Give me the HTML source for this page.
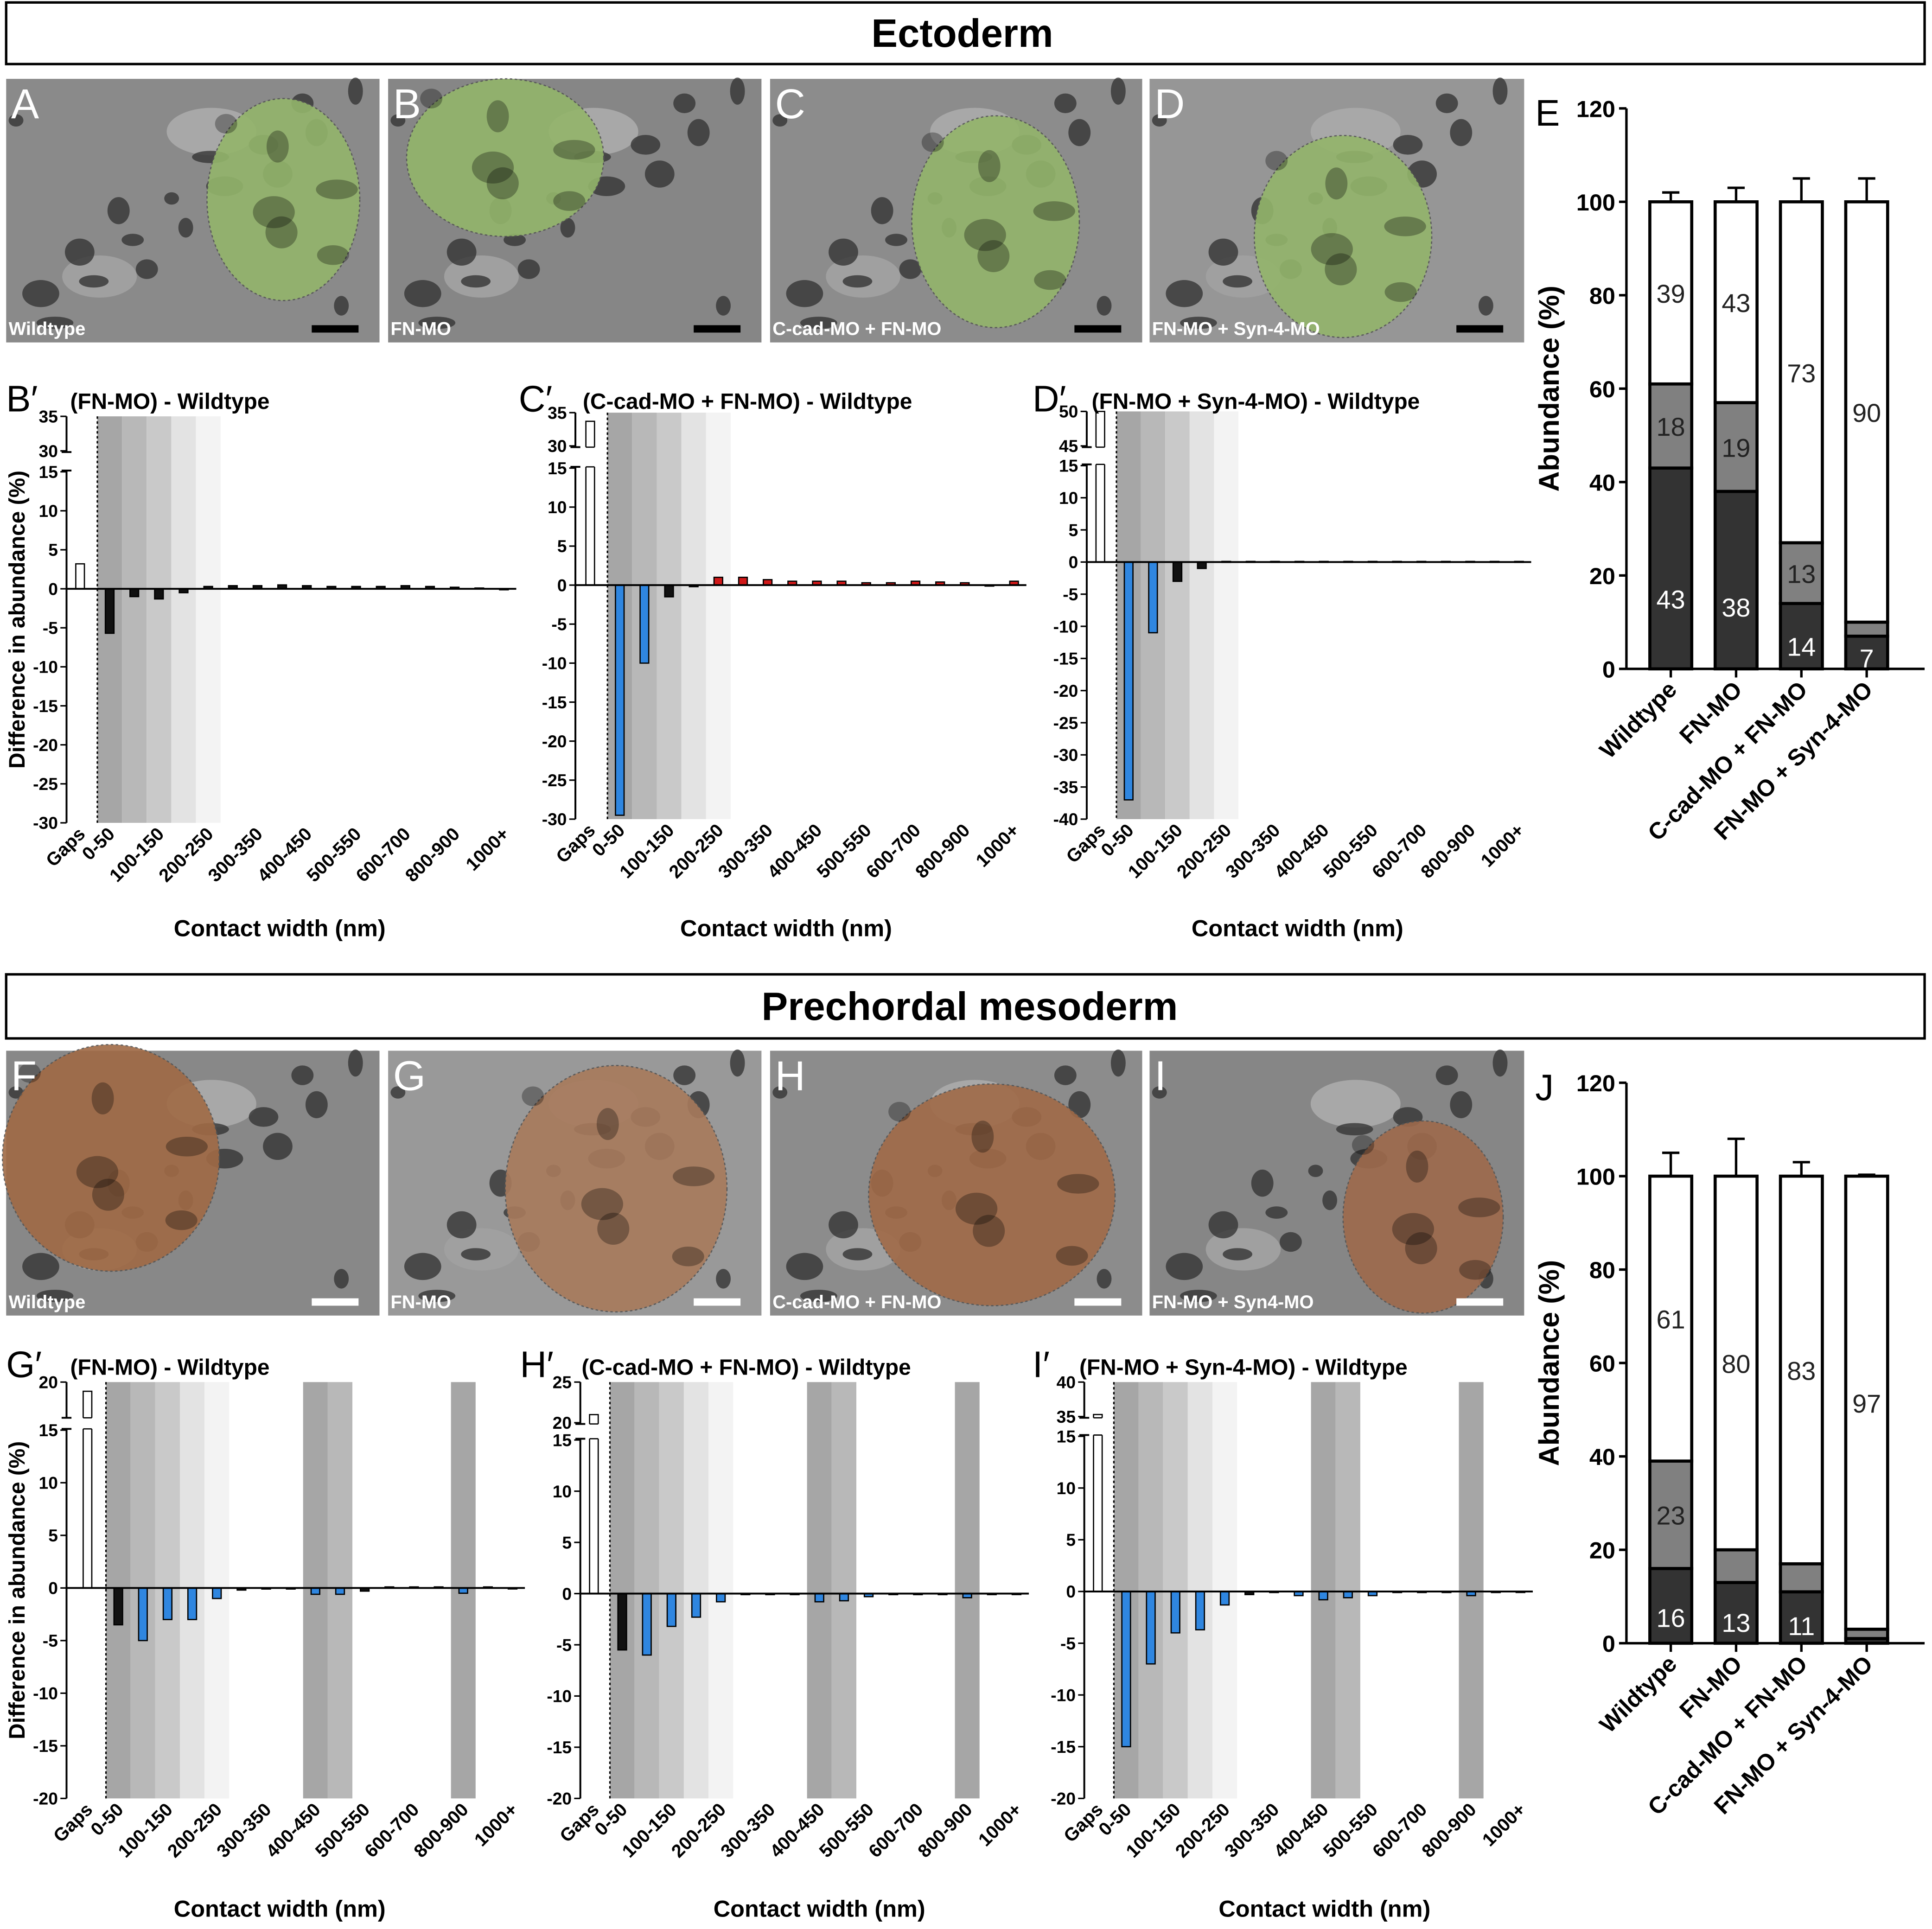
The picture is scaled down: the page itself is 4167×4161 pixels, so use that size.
<!DOCTYPE html>
<html><head><meta charset="utf-8"><style>
html,body{margin:0;padding:0;background:#fff;}
svg{display:block;font-family:"Liberation Sans",Arial,sans-serif;}
</style></head><body>
<svg id="fig" width="4167" height="4161" viewBox="0 0 1568 1566" preserveAspectRatio="none" xmlns="http://www.w3.org/2000/svg">
<rect x="0" y="0" width="1568" height="1566" fill="#fff"/>
<g>
<rect x="5" y="2" width="1557" height="50" fill="#fff" stroke="#000" stroke-width="2"/>
<text x="781" y="38" font-size="32" font-weight="bold" text-anchor="middle">Ectoderm</text>
</g>
<g>
<rect x="5" y="791" width="1557" height="52" fill="#fff" stroke="#000" stroke-width="2"/>
<text x="787" y="828" font-size="32" font-weight="bold" text-anchor="middle">Prechordal mesoderm</text>
</g>
<g id="images"></g>
<g id="charts"></g>
</svg>
<script>
// ---------- data ----------
const diffCats = ["Gaps","0-50","50-100","100-150","150-200","200-250","250-300","300-350","350-400","400-450","450-500","500-550","550-600","600-700","700-800","800-900","900-1000","1000+"];
const bVals = [3.2,-5.7,-1.0,-1.3,-0.5,0.3,0.4,0.4,0.5,0.4,0.3,0.3,0.3,0.4,0.3,0.2,0.1,-0.1];
const bSig  = ["g","n","n","n","n","n","n","n","n","n","n","n","n","n","n","n","n","n"];
const cVals = [33.7,-29.5,-10,-1.5,-0.2,1.0,1.0,0.7,0.5,0.5,0.5,0.3,0.3,0.5,0.4,0.3,-0.1,0.5];
const cSig  = ["g","d","d","n","n","u","u","u","u","u","u","u","u","u","u","u","n","u"];
const dVals = [50,-37,-11,-3,-1,0.1,0.1,0.1,0.1,0.1,0.1,0.1,0.1,0.1,0.1,0.1,0.1,0.1];
const dSig  = ["g","d","d","n","n","n","n","n","n","n","n","n","n","n","n","n","n","n"];
const gVals = [19.2,-3.5,-5,-3,-3,-1,-0.2,-0.1,-0.1,-0.6,-0.6,-0.3,0.1,0.1,0.1,-0.5,0.1,0];
const gSig  = ["g","n","d","d","d","d","n","n","n","d","d","n","n","n","n","d","n","n"];
const hVals = [21,-5.5,-6,-3.2,-2.3,-0.8,-0.1,-0.1,-0.1,-0.8,-0.7,-0.3,-0.1,-0.1,-0.1,-0.4,-0.1,0];
const hSig  = ["g","n","d","d","d","d","n","n","n","d","d","d","n","n","n","d","n","n"];
const iVals = [35.3,-15,-7,-4,-3.7,-1.3,-0.3,-0.1,-0.4,-0.8,-0.6,-0.4,-0.1,-0.1,-0.1,-0.4,-0.1,0];
const iSig  = ["g","d","d","d","d","d","n","n","d","d","d","d","n","n","n","d","n","n"];
const xTickLabels = ["Gaps","0-50","100-150","200-250","300-350","400-450","500-550","600-700","800-900","1000+"];

const stackCats = ["Wildtype","FN-MO","C-cad-MO + FN-MO","FN-MO + Syn-4-MO"];
const eDark = [43,38,14,7];
const eMid  = [18,19,13,3];
const eTop  = [39,43,73,90];
const eErrDark = [47,42,20,9];
const eErrMid  = [65,59,29,12];
const eErrTop  = [102,103,105,105];
const eLabels = [["43","18","39"],["38","19","43"],["14","13","73"],["7","","90"]];
const jDark = [16,13,11,1];
const jMid  = [23,7,6,2];
const jTop  = [61,80,83,97];
const jErrDark = [20,16,15,1.5];
const jErrMid  = [43,26,23,3.3];
const jErrTop  = [105,108,103,100.3];
const jLabels = [["16","23","61"],["13","","80"],["11","","83"],["","","97"]];
const stackTicks = [0,20,40,60,80,100,120];

// ---------- helpers ----------
const NS="http://www.w3.org/2000/svg";
function mk(tag, attrs, parent){const e=document.createElementNS(NS,tag);for(const k in attrs)e.setAttribute(k,attrs[k]);parent.appendChild(e);return e;}
const charts=document.getElementById('charts');
const images=document.getElementById('images');

// ---------- micrographs ----------
const imgs=[
 {x:5,y:64,w:303,h:214,L:"A",t:"Wildtype",bg:"#8a8a8a",blob:[230,162,62,82],c:"#93b56b",bar:"#000"},
 {x:315,y:64,w:303,h:214,L:"B",t:"FN-MO",bg:"#868686",blob:[410,128,80,64],c:"#93b56b",bar:"#000"},
 {x:625,y:64,w:302,h:214,L:"C",t:"C-cad-MO + FN-MO",bg:"#8c8c8c",blob:[808,180,68,86],c:"#93b56b",bar:"#000"},
 {x:933,y:64,w:304,h:214,L:"D",t:"FN-MO + Syn-4-MO",bg:"#969696",blob:[1090,192,72,82],c:"#93b56b",bar:"#000"},
 {x:5,y:853,w:303,h:215,L:"F",t:"Wildtype",bg:"#888888",blob:[90,940,88,92],c:"#a06a45",bar:"#fff"},
 {x:315,y:853,w:303,h:215,L:"G",t:"FN-MO",bg:"#999999",blob:[500,965,90,100],c:"#a87a5c",bar:"#fff"},
 {x:625,y:853,w:302,h:215,L:"H",t:"C-cad-MO + FN-MO",bg:"#8c8c8c",blob:[805,970,100,90],c:"#a06a48",bar:"#fff"},
 {x:933,y:853,w:304,h:215,L:"I",t:"FN-MO + Syn4-MO",bg:"#868686",blob:[1155,988,65,78],c:"#9e6a4c",bar:"#fff"}
];
const imgNames=["panel-a","panel-b","panel-c","panel-d","panel-f","panel-g","panel-h","panel-i"];
imgs.forEach((m,k)=>{
 const g=mk('g',{},images);
 
 
 mk('rect',{x:m.x,y:m.y,width:m.w,height:m.h,fill:m.bg},g);
 mk('ellipse',{cx:m.x+m.w*0.55,cy:m.y+m.h*0.2,rx:m.w*0.12,ry:m.h*0.09,fill:"#a8a8a8"},g);
 mk('ellipse',{cx:m.x+m.w*0.25,cy:m.y+m.h*0.75,rx:m.w*0.1,ry:m.h*0.08,fill:"#a0a0a0"},g);
 for(let j=0;j<18;j++){
   const fx=((j*37)%100)/100, fy=((j*61+13)%100)/100;
   mk('ellipse',{cx:m.x+8+fx*(m.w-16),cy:m.y+8+fy*(m.h-16),rx:6+(j%4)*3,ry:5+(j%3)*3,fill:"#353535",opacity:0.8},g);
 }
 mk('ellipse',{cx:m.blob[0],cy:m.blob[1],rx:m.blob[2],ry:m.blob[3],fill:m.c,opacity:0.9,stroke:"#555","stroke-dasharray":"2,2"},g);
 for(let j=0;j<6;j++){
   mk('ellipse',{cx:m.blob[0]+((j*29)%60-30)*m.blob[2]/40,cy:m.blob[1]+((j*43)%60-30)*m.blob[3]/40,rx:9+(j%3)*4,ry:8+(j%2)*5,fill:"#000",opacity:0.3},g);
 }
 const l=mk('text',{x:m.x+4,y:m.y+32,"font-size":34,fill:"#fff"},g);l.textContent=m.L;
 const t=mk('text',{x:m.x+2,y:m.y+m.h-6,"font-size":15,"font-weight":"bold",fill:"#fff"},g);t.textContent=m.t;
 mk('rect',{x:m.x+m.w-55,y:m.y+m.h-14,width:38,height:6,fill:m.bar},g);
});

// ---------- difference charts ----------
function diffChart(name,cfg,vals,sig){
 const g=mk('g',{},charts);
 
 
 const [hiM,pHi,lo,pLo]=cfg.main, [upLo,pUL,upHi,pUH]=cfg.upper;
 const y=v=> v<=hiM ? pHi+(hiM-v)*(pLo-pHi)/(hiM-lo) : pUL-(v-upLo)*(pUL-pUH)/(upHi-upLo);
 const x=i=> i===0?cfg.gapsX:cfg.x1+(i-1)*cfg.step;
 const shades=["#a6a6a6","#b8b8b8","#c9c9c9","#e3e3e3","#f3f3f3"];
 for(let i=1;i<=5;i++){
   const b=mk('rect',{x:x(i)-cfg.step/2,y:pUH,width:cfg.step,height:pLo-pUH,fill:shades[i-1]},g);
   
   
 }
 (cfg.extra||[]).forEach((pair)=>{
   const b=mk('rect',{x:x(pair[0])-cfg.step/2,y:pUH,width:cfg.step,height:pLo-pUH,fill:pair[1]},g);
   
   
 });
 const dx=x(1)-cfg.step/2;
 mk('line',{x1:dx,y1:pUH,x2:dx,y2:pLo,stroke:"#000","stroke-width":1.2,"stroke-dasharray":"2,2"},g);
 vals.forEach((v,i)=>{
   const col = sig[i]==="g"?"#fff":sig[i]==="d"?"#2f86e0":sig[i]==="u"?"#d01818":"#111";
   const y0=y(0), y1=y(v);
   const r=mk('rect',{x:x(i)-3.5,y:Math.min(y0,y1),width:7,height:Math.max(0.8,Math.abs(y1-y0)),fill:col,stroke:"#000","stroke-width":1},g);
   
   
   if(v>hiM){
     mk('rect',{x:x(i)-5,y:pUL+1,width:10,height:pHi-pUL-2,fill:"#fff"},g);
     mk('line',{x1:x(i)-3.5,y1:pUL+1,x2:x(i)+3.5,y2:pUL+1,stroke:"#000"},g);
     mk('line',{x1:x(i)-3.5,y1:pHi-1,x2:x(i)+3.5,y2:pHi-1,stroke:"#000"},g);
   }
 });
 const ax=cfg.axisX;
 mk('line',{x1:ax,y1:pUH,x2:ax,y2:pUL+1,stroke:"#000","stroke-width":1.5},g);
 mk('line',{x1:ax,y1:pHi-1,x2:ax,y2:pLo,stroke:"#000","stroke-width":1.5},g);
 mk('line',{x1:ax-4,y1:pUL+1,x2:ax+4,y2:pUL+1,stroke:"#000","stroke-width":1.5},g);
 mk('line',{x1:ax-4,y1:pHi-1,x2:ax+4,y2:pHi-1,stroke:"#000","stroke-width":1.5},g);
 mk('line',{x1:ax,y1:y(0),x2:x(17)+cfg.step/2,y2:y(0),stroke:"#000","stroke-width":1.5},g);
 const ticks=[];for(let v=lo;v<=hiM;v+=5)ticks.push(v);
 cfg.upTicks.forEach(v=>ticks.push(v));
 ticks.forEach(v=>{
   mk('line',{x1:ax-5,y1:y(v),x2:ax,y2:y(v),stroke:"#000","stroke-width":1.2},g);
   const t=mk('text',{x:ax-7,y:y(v)+5,"font-size":14,"font-weight":"bold","text-anchor":"end"},g);t.textContent=v;
 });
 xTickLabels.forEach(lbl=>{
   const i=diffCats.indexOf(lbl);
   const tx=x(i)+5, ty=pLo+10;
   const t=mk('text',{x:tx,y:ty,"font-size":15,"font-weight":"bold","text-anchor":"end",transform:`rotate(-45 ${tx} ${ty})`},g);
   t.textContent=lbl;
 });
 const xt=mk('text',{x:cfg.xTitle,y:cfg.xTitleY,"font-size":19,"font-weight":"bold","text-anchor":"middle"},g);xt.textContent="Contact width (nm)";
 
 const pl=mk('text',{x:cfg.titleX,y:cfg.titleY,"font-size":30},g);pl.textContent=cfg.letter+"\u2032";
 const tt=mk('text',{x:cfg.titleX+cfg.titleOff,y:cfg.titleY-2,"font-size":18,"font-weight":"bold"},g);tt.textContent=cfg.title;
 
 if(cfg.yTitle){
   const cy=(pUH+pLo)/2;
   const yt=mk('text',{x:20,y:cy,"font-size":18,"font-weight":"bold","text-anchor":"middle",transform:`rotate(-90 20 ${cy})`},g);
   yt.textContent="Difference in abundance (%)";
   
 }
}
diffChart('chart-b-prime',{axisX:54,gapsX:65,x1:89,step:20,main:[15,383,-30,668],upper:[30,366,35,338],upTicks:[30,35],xTitle:227,xTitleY:760,letter:"B",title:"(FN-MO) - Wildtype",titleX:5,titleY:334,titleOff:52,yTitle:true},bVals,bSig);
diffChart('chart-c-prime',{axisX:467,gapsX:479,x1:503,step:20,main:[15,380,-30,665],upper:[30,362,35,335],upTicks:[30,35],xTitle:638,xTitleY:760,letter:"C",title:"(C-cad-MO + FN-MO) - Wildtype",titleX:421,titleY:334,titleOff:52},cVals,cSig);
diffChart('chart-d-prime',{axisX:882,gapsX:893,x1:916,step:19.8,main:[15,378,-40,665],upper:[45,362,50,334],upTicks:[45,50],xTitle:1053,xTitleY:760,letter:"D",title:"(FN-MO + Syn-4-MO) -  Wildtype",titleX:838,titleY:334,titleOff:48},dVals,dSig);
diffChart('chart-g-prime',{axisX:54,gapsX:71,x1:96,step:20,main:[15,1161,-20,1460],upper:[17,1150,20,1122],upTicks:[20],extra:[[9,"#a6a6a6"],[10,"#b8b8b8"],[15,"#a6a6a6"]],xTitle:227,xTitleY:1556,letter:"G",title:"(FN-MO) - Wildtype",titleX:5,titleY:1118,titleOff:52,yTitle:true},gVals,gSig);
diffChart('chart-h-prime',{axisX:471,gapsX:482,x1:505,step:20,main:[15,1169,-20,1460],upper:[20,1155,25,1122],upTicks:[20,25],extra:[[9,"#a6a6a6"],[10,"#b8b8b8"],[15,"#a6a6a6"]],xTitle:665,xTitleY:1556,letter:"H",title:"(C-cad-MO + FN-MO) - Wildtype",titleX:422,titleY:1118,titleOff:50},hVals,hSig);
diffChart('chart-i-prime',{axisX:880,gapsX:891,x1:914,step:20,main:[15,1166,-20,1460],upper:[35,1150,40,1122],upTicks:[35,40],extra:[[9,"#a6a6a6"],[10,"#b8b8b8"],[15,"#a6a6a6"]],xTitle:1075,xTitleY:1556,letter:"I",title:"(FN-MO + Syn-4-MO) - Wildtype",titleX:838,titleY:1118,titleOff:38},iVals,iSig);

// ---------- stacked charts ----------
function stackChart(name,cfg,dark,mid,top,eD,eM,eT,labels){
 const g=mk('g',{},charts);
 
 
 const y=v=>cfg.y0-v*(cfg.y0-cfg.y120)/120;
 const x=i=>cfg.xc0+i*cfg.dx;
 const bw=34;
 dark.forEach((d,i)=>{
   const segs=[[0,d,"#333333"],[d,d+mid[i],"#808080"],[d+mid[i],d+mid[i]+top[i],"#ffffff"]];
   const errs=[eD[i],eM[i],eT[i]];
   const segNames=['dark','mid','top'];
   segs.forEach((s,k)=>{
     const r=mk('rect',{x:x(i)-bw/2,y:y(s[1]),width:bw,height:y(s[0])-y(s[1]),fill:s[2],stroke:"#000","stroke-width":2.5},g);
     
     
     mk('line',{x1:x(i),y1:y(s[1]),x2:x(i),y2:y(errs[k]),stroke:"#000","stroke-width":2},g);
     mk('line',{x1:x(i)-7,y1:y(errs[k]),x2:x(i)+7,y2:y(errs[k]),stroke:"#000","stroke-width":2},g);
     if(labels[i][k]){
       const ly=k===0?y(s[0])-(y(s[0])-y(s[1]))*0.35:y((s[0]+s[1])/2);
       const t=mk('text',{x:x(i),y:ly+8,"font-size":21,"text-anchor":"middle",fill:k===0?"#fff":"#222"},g);
       t.textContent=labels[i][k];
     }
   });
 });
 const ax=cfg.axisX;
 mk('line',{x1:ax,y1:y(120),x2:ax,y2:y(0),stroke:"#000","stroke-width":2},g);
 mk('line',{x1:ax,y1:y(0),x2:cfg.xEnd,y2:y(0),stroke:"#000","stroke-width":2},g);
 stackTicks.forEach(v=>{
   mk('line',{x1:ax-6,y1:y(v),x2:ax,y2:y(v),stroke:"#000","stroke-width":2},g);
   const t=mk('text',{x:ax-9,y:y(v)+7,"font-size":19,"font-weight":"bold","text-anchor":"end"},g);t.textContent=v;
 });
 stackCats.forEach((c,i)=>{
   mk('line',{x1:x(i),y1:y(0),x2:x(i),y2:y(0)+7,stroke:"#000","stroke-width":2},g);
   const tx=x(i)+6, ty=y(0)+18;
   const t=mk('text',{x:tx,y:ty,"font-size":19,"font-weight":"bold","text-anchor":"end",transform:`rotate(-45 ${tx} ${ty})`},g);
   t.textContent=c;
 });
 const cy=(y(0)+y(120))/2;
 const yt=mk('text',{x:1265,y:cy,"font-size":23,"font-weight":"bold","text-anchor":"middle",transform:`rotate(-90 1265 ${cy})`},g);
 yt.textContent="Abundance (%)";
 
 const L=mk('text',{x:1246,y:cfg.y120+14,"font-size":30},g);L.textContent=cfg.letter;
}
stackChart('chart-e',{axisX:1320,y0:543,y120:88,xc0:1356,dx:53,xEnd:1562,letter:"E"},eDark,eMid,eTop,eErrDark,eErrMid,eErrTop,eLabels);
stackChart('chart-j',{axisX:1320,y0:1334,y120:879,xc0:1356,dx:53,xEnd:1562,letter:"J"},jDark,jMid,jTop,jErrDark,jErrMid,jErrTop,jLabels);
</script>
</body></html>
